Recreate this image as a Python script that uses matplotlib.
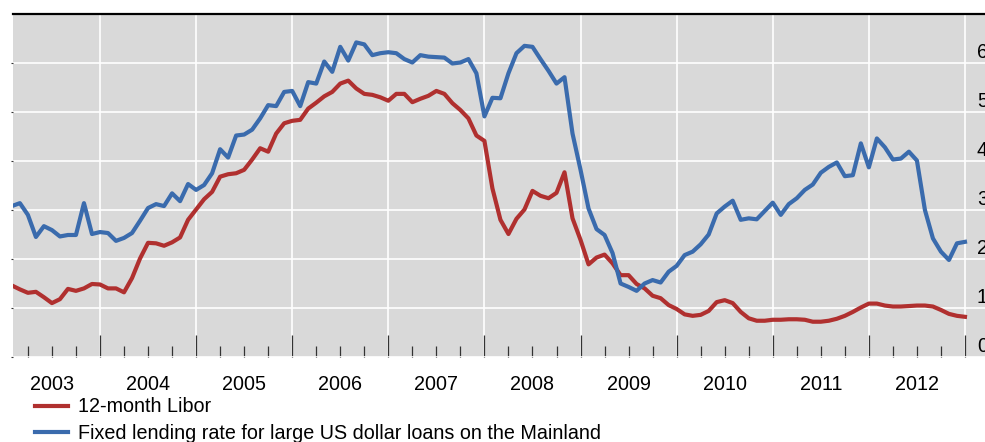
import numpy as np
import matplotlib
matplotlib.use('Agg')
import matplotlib.pyplot as plt
from matplotlib.ticker import FixedLocator
import matplotlib.transforms as mtransforms

plt.rcParams['font.family'] = ['Liberation Sans', 'DejaVu Sans']

# monthly data, Jan 2003 - Dec 2012 (percent)
years = list(range(2003, 2013))

libor = [1.46, 1.38, 1.31, 1.33, 1.22, 1.10, 1.18, 1.39, 1.35, 1.40, 1.49, 1.48,
         1.40, 1.40, 1.32, 1.61, 2.01, 2.33, 2.32, 2.27, 2.34, 2.44, 2.80, 3.01,
         3.22, 3.37, 3.68, 3.73, 3.75, 3.82, 4.03, 4.26, 4.19, 4.56, 4.77, 4.82,
         4.84, 5.07, 5.19, 5.32, 5.41, 5.58, 5.64, 5.48, 5.37, 5.35, 5.30, 5.23,
         5.37, 5.37, 5.20, 5.27, 5.33, 5.43, 5.37, 5.18, 5.04, 4.87, 4.52, 4.41,
         3.44, 2.80, 2.51, 2.82, 3.01, 3.39, 3.29, 3.24, 3.35, 3.77, 2.83, 2.39,
         1.89, 2.03, 2.09, 1.91, 1.67, 1.67, 1.49, 1.40, 1.25, 1.20, 1.06, 0.98,
         0.87, 0.84, 0.86, 0.94, 1.12, 1.16, 1.10, 0.92, 0.79, 0.74, 0.74, 0.76,
         0.76, 0.77, 0.77, 0.76, 0.72, 0.72, 0.74, 0.78, 0.84, 0.92, 1.01, 1.09,
         1.09, 1.05, 1.03, 1.03, 1.04, 1.05, 1.05, 1.03, 0.96, 0.88, 0.84, 0.82]

usd_rate = [3.08, 3.14, 2.90, 2.45, 2.67, 2.59, 2.46, 2.49, 2.49, 3.14, 2.51, 2.55,
            2.53, 2.37, 2.43, 2.53, 2.78, 3.04, 3.12, 3.08, 3.34, 3.18, 3.53, 3.41,
            3.51, 3.75, 4.24, 4.07, 4.52, 4.54, 4.64, 4.87, 5.14, 5.12, 5.41, 5.43,
            5.12, 5.61, 5.58, 6.03, 5.82, 6.33, 6.05, 6.42, 6.38, 6.16, 6.20, 6.22,
            6.20, 6.08, 6.01, 6.16, 6.13, 6.12, 6.11, 5.99, 6.01, 6.08, 5.79, 4.91,
            5.29, 5.28, 5.79, 6.20, 6.35, 6.33, 6.08, 5.84, 5.58, 5.71, 4.56, 3.82,
            3.03, 2.61, 2.49, 2.12, 1.50, 1.43, 1.35, 1.50, 1.57, 1.52, 1.74, 1.86,
            2.08, 2.15, 2.30, 2.50, 2.93, 3.07, 3.19, 2.80, 2.83, 2.81, 2.98, 3.15,
            2.90, 3.12, 3.24, 3.41, 3.52, 3.76, 3.88, 3.97, 3.69, 3.71, 4.36, 3.87,
            4.46, 4.28, 4.03, 4.05, 4.19, 4.01, 3.00, 2.42, 2.15, 1.98, 2.32, 2.35]

y_ticks = [0, 1, 2, 3, 4, 5, 6]
labels = ['12-month Libor',
          'Fixed lending rate for large US dollar loans on the Mainland']

# end-of-month positions in decimal years
t = 2003 + (np.arange(len(libor)) + 1) / 12.0

RED = '#B0302F'
BLUE = '#3A6BAD'
FS = 14.2

fig = plt.figure(figsize=(9.85, 4.42), dpi=100)
ax = fig.add_axes([13 / 985, 85 / 442, 990 / 985, 343 / 442])
ax.set_facecolor('#D9D9D9')

ax.plot(t, libor, color=RED, lw=3, solid_joinstyle='round', label=labels[0], zorder=3)
ax.plot(t, usd_rate, color=BLUE, lw=3, solid_joinstyle='round', label=labels[1], zorder=3)

ax.set_xlim(2003.095, 2003.095 + 990 / 96.11)
ax.set_ylim(0, 7.0)

year_edges = list(range(2004, 2014))
quarters = [y + q / 4 for y in range(2003, 2013) for q in (1, 2, 3)]
ax.xaxis.set_major_locator(FixedLocator(year_edges))
ax.xaxis.set_minor_locator(FixedLocator(quarters))
ax.set_xticklabels([])
ax.tick_params(axis='x', which='major', direction='in', length=15.5, width=0.9,
               color='#333333')
ax.tick_params(axis='x', which='minor', direction='in', length=7.8, width=0.9,
               color='#333333')

ax.set_yticks(y_ticks)
ax.set_yticklabels([])
ax.tick_params(axis='y', direction='out', length=1.5, width=0.8, color='#333333')

ax.grid(True, which='major', color='white', lw=1.2, zorder=0)
ax.set_axisbelow(True)

for s in ['left', 'right', 'bottom']:
    ax.spines[s].set_visible(False)
ax.spines['top'].set_color('black')
ax.spines['top'].set_linewidth(1.6)

# year labels, centred in each year
trans = mtransforms.blended_transform_factory(ax.transData, ax.transAxes)
for y in years:
    ax.text(y + 0.5, -0.08, str(y), transform=trans, ha='center', va='center',
            fontsize=FS, color='black')

# right-hand value labels sit just above each gridline
for v in y_ticks:
    ax.text(2013.125, v + 0.22, str(v), ha='left', va='center', fontsize=FS,
            color='black')

fig.legend(loc='upper left', bbox_to_anchor=(35 / 985, 1 - 397.5 / 442),
           frameon=False, fontsize=FS, handlelength=1.68, handletextpad=0.5,
           labelspacing=0.39, borderpad=0, borderaxespad=0)

fig.savefig('out.png', dpi=100)
